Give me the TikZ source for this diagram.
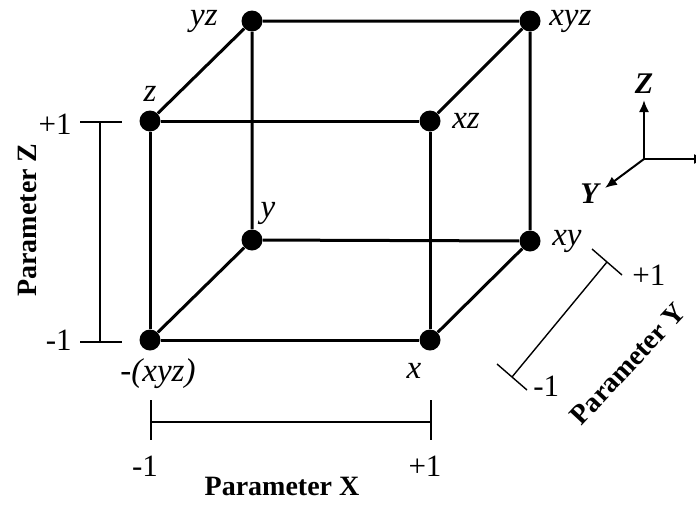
\documentclass[tikz,border=0pt]{standalone}
\usepackage{fontspec}
\setmainfont{Liberation Serif}
\usepackage{tikz}
\usetikzlibrary{arrows.meta, positioning}

\begin{document}
\begin{tikzpicture}[
        x=0.5pt, y=-0.5pt,
        vertex/.style={
            circle,
            fill=black,
            inner sep=0pt,
            minimum size=10.5pt
        },
        corner/.style={
            font=\itshape\fontsize{16.5}{18}\selectfont,
            inner sep=1pt
        },
        edge/.style={
            draw,
            line width=1.5pt
        },
        bar/.style={
            draw,
            line width=0.7pt
        },
        tickval/.style={
            font=\fontsize{15.5}{17}\selectfont,
            inner sep=1pt
        },
        param/.style={
            font=\bfseries\fontsize{14}{16}\selectfont,
            inner sep=0pt
        },
        axislab/.style={
            font=\bfseries\itshape\fontsize{15}{17}\selectfont,
            inner sep=1pt
        },
        axis/.style={
            draw,
            line width=1pt,
            -{Latex[length=6pt, width=5pt]}
        }
    ]
        \clip (0,0) rectangle (696,509);

        % Cube corners
        \node [vertex] (o) at (150,340) {};
        \node [vertex] (x) at (430,340) {};
        \node [vertex] (z) at (150,121) {};
        \node [vertex] (xz) at (430,121) {};
        \node [vertex] (y) at (252,240) {};
        \node [vertex] (xy) at (530,241) {};
        \node [vertex] (yz) at (252,21) {};
        \node [vertex] (xyz) at (530,21) {};

        % Corner labels
        \node [corner, below=2.5pt of o, xshift=4pt] (ol) {-(xyz)};
        \node [corner, below=5pt of x, xshift=-8pt] (xl) {x};
        \node [corner, above=3pt of z] (zl) {z};
        \node [corner, right=4.5pt of xz] (xzl) {xz};
        \node [corner, above=1pt of y, xshift=8pt] (yl) {y};
        \node [corner, right=4.5pt of xy] (xyl) {xy};
        \node [corner, left=10.5pt of yz] (yzl) {yz};
        \node [corner, right=3pt of xyz] (xyzl) {xyz};

        % Cube edges
        \draw [edge] (o) -- (x) -- (xz) -- (z) -- (o);
        \draw [edge] (y) -- (xy) -- (xyz) -- (yz) -- (y);
        \draw [edge] (o) -- (y);
        \draw [edge] (x) -- (xy);
        \draw [edge] (z) -- (yz);
        \draw [edge] (xz) -- (xyz);

        % Parameter Z
        \coordinate (zhi) at (100,122);
        \coordinate (zlo) at (100,342);
        \coordinate (zhiL) at (80,122);
        \coordinate (zhiR) at (122,122);
        \coordinate (zloL) at (80,342);
        \coordinate (zloR) at (122,342);
        \draw [bar] (zhi) -- (zlo);
        \draw [bar] (zhiL) -- (zhiR);
        \draw [bar] (zloL) -- (zloR);
        \node [tickval, left=3pt of zhiL, yshift=-1pt] (zplus) {+1};
        \node [tickval, left=3pt of zloL, yshift=1pt] (zminus) {-1};
        \node [param, rotate=90] (zpar) at (27,220) {Parameter Z};

        % Parameter X
        \coordinate (xlo) at (151,422);
        \coordinate (xhi) at (431,422);
        \coordinate (xloT) at (151,400);
        \coordinate (xloB) at (151,440);
        \coordinate (xhiT) at (431,400);
        \coordinate (xhiB) at (431,440);
        \draw [bar] (xlo) -- (xhi);
        \draw [bar] (xloT) -- (xloB);
        \draw [bar] (xhiT) -- (xhiB);
        \node [tickval, below=7pt of xloB, xshift=-3pt] (xminus) {-1};
        \node [tickval, below=7pt of xhiB, xshift=-3pt] (xplus) {+1};
        \node [param] (xpar) at (282,486) {Parameter X};

        % Parameter Y
        \coordinate (yhi) at (607,262);
        \coordinate (ylo) at (512,377);
        \coordinate (yhiA) at (592,249);
        \coordinate (yhiB) at (622,275);
        \coordinate (yloA) at (497,364);
        \coordinate (yloB) at (527,390);
        \draw [bar] (yhi) -- (ylo);
        \draw [bar] (yhiA) -- (yhiB);
        \draw [bar] (yloA) -- (yloB);
        \node [tickval, right=4pt of yhiB] (yplus) {+1};
        \node [tickval, right=2pt of yloB, yshift=2pt] (yminus) {-1};
        \node [param, rotate=47] (ypar) at (628,364) {Parameter Y};

        % Axes
        \coordinate (org) at (644,159);
        \coordinate (ztip) at (644,100);
        \coordinate (xtip) at (706,159);
        \coordinate (ytip) at (605,188);
        \draw [axis] (org) -- (ztip);
        \draw [axis] (org) -- (xtip);
        \draw [axis] (org) -- (ytip);
        \node [axislab, above=2pt of ztip] (zax) {Z};
        \node [axislab, left=2pt of ytip, yshift=-3pt] (yax) {Y};

    \end{tikzpicture}
\end{document}
